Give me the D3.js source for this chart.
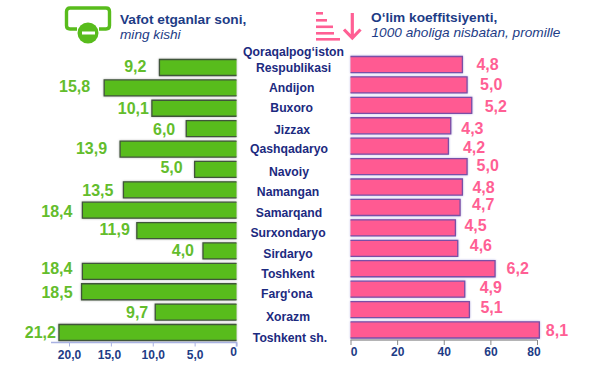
<!DOCTYPE html>
<html lang="en">
<head>
<meta charset="UTF-8">
<title>Vafot etganlar soni</title>
<script src="https://d3js.org/d3.v7.min.js"></script>
<style>
    html, body { margin: 0; background: #fff; }
    svg { display: block; font-family: "Liberation Sans", Arial, sans-serif; }
    .title { font-weight: bold; font-size: 13.7px; fill: #1d3c86; }
    .sub { font-style: italic; font-size: 13.65px; fill: #1d3c86; }
    .cat { font-weight: bold; font-size: 12.2px; fill: #1c2a80; text-anchor: middle; }
    .val { font-weight: bold; font-size: 16px; dominant-baseline: central; }
    .axis text { font-weight: bold; font-size: 12px; fill: #1d3c86; font-family: "Liberation Sans", Arial, sans-serif; }
</style>
</head>
<body>
<svg id="chart" width="600" height="366"></svg>
<script>
// data
const categories = ["Qoraqalpog‘iston Respublikasi", "Andijon", "Buxoro", "Jizzax", "Qashqadaryo", "Navoiy", "Namangan",
    "Samarqand", "Surxondaryo", "Sirdaryo", "Toshkent", "Farg‘ona", "Xorazm", "Toshkent sh."];
const deaths = [9.2, 15.8, 10.1, 6.0, 13.9, 5.0, 13.5, 18.4, 11.9, 4.0, 18.4, 18.5, 9.7, 21.2];
const rates = [4.8, 5.0, 5.2, 4.3, 4.2, 5.0, 4.8, 4.7, 4.5, 4.6, 6.2, 4.9, 5.1, 8.1];
const deathTicks = [20, 15, 10, 5, 0];
const rateTicks = [0, 2, 4, 6, 8]; // drawn as 0..80 in the original

// hand placed labels in the original, so they are not evenly spaced
const deathGap = [13, 14, 3, 11, 13, 12, 10, 10, 7, 9, 10, 9, 7, 3];
const deathNudge = [-1.5, -1, 0, 0.5, -1, -1.5, 1, 1, -1, 0, -2.5, 1, 0, 0.5];
const rateGap = [14, 13, 13, 10.5, 14.5, 9.5, 10, 12, 9, 12, 11.5, 15, 11, 6.5];
const rateNudge = [-0.5, 0, 1, 2.5, 1, -1.5, 0, -3, -2, -3, -0.5, -2, -2, 0.5];
const catNudge = [0, -0.8, -1.5, -0.3, -2, 0.2, -1, -1, -1, -1, -2, -2.6, -1, 0];
const catCenter = [293.5, 291.7, 291.7, 292, 289, 289, 288, 289, 288, 288, 288, 286.7, 288, 290];

const green = "#58bc1c", pink = "#ff5a92", navy = "#1d3c86";
const svg = d3.select("#chart");

// scales
const xLeft = d3.scaleLinear().domain([0, 20]).range([236.5, 69]);
const xRight = d3.scaleLinear().domain([0, 8]).range([350.5, 537]);
const yLeft = d3.scaleBand().domain(categories).range([59, 341]).paddingInner(0.166);
const yRight = d3.scaleBand().domain(categories).range([56, 338.5]).paddingInner(0.166);
const yCat = d3.scalePoint().domain(categories).range([68, 338]);

// open ended bar, no stroke on the side that sits on the axis
function barPath(x, y, d, i) {
    const name = categories[i], top = y(name) + 0.5, bot = y(name) + y.bandwidth() - 0.5;
    return `M${x(0)},${top}H${x(d)}V${bot}H${x(0)}`;
}

svg.append("g").selectAll("path").data(deaths).enter().append("path")
    .attr("d", (d, i) => barPath(xLeft, yLeft, d, i))
    .attr("fill", green)
    .attr("stroke", "#40553a")
    .attr("stroke-width", 1.3)
    .style("filter", "drop-shadow(0 0 1px #b5b5b5)");

svg.append("g").selectAll("path").data(rates).enter().append("path")
    .attr("d", (d, i) => barPath(xRight, yRight, d, i))
    .attr("fill", pink)
    .attr("stroke", "#7a4fa6")
    .attr("stroke-width", 1.3)
    .style("filter", "drop-shadow(0 0 1px #b9b6e6)");

// value labels
svg.append("g").selectAll("text").data(deaths).enter().append("text")
    .attr("class", "val")
    .attr("text-anchor", "end")
    .attr("fill", "#63bd2c")
    .attr("x", (d, i) => xLeft(d) - deathGap[i])
    .attr("y", (d, i) => yLeft(categories[i]) + yLeft.bandwidth() / 2 + deathNudge[i])
    .text(d => d3.format(".1f")(d).replace(".", ","));

svg.append("g").selectAll("text").data(rates).enter().append("text")
    .attr("class", "val")
    .attr("fill", "#ff5f94")
    .attr("x", (d, i) => xRight(d) + rateGap[i])
    .attr("y", (d, i) => yRight(categories[i]) + yRight.bandwidth() / 2 + rateNudge[i])
    .text(d => d3.format(".1f")(d).replace(".", ","));

// region names, the first one wraps on two lines
svg.append("g").selectAll("text").data(categories).enter().append("text")
    .attr("class", "cat")
    .attr("x", (d, i) => catCenter[i])
    .attr("y", (d, i) => yCat(d) + catNudge[i])
    .attr("dy", "0.35em")
    .each(function(d, i) {
        const words = d.split(" ");
        if (words[1] === "Respublikasi") {
            d3.select(this).append("tspan").attr("x", catCenter[i]).attr("dy", "-0.95em").text(words[0]);
            d3.select(this).append("tspan").attr("x", catCenter[i]).attr("dy", "1.28em").text(words[1]);
        } else {
            d3.select(this).text(d);
        }
    });

// axes
const axisLeft = svg.append("g").attr("class", "axis").attr("transform", "translate(0,342.5)")
    .call(d3.axisBottom(xLeft).tickValues(deathTicks).tickSize(4).tickPadding(3)
        .tickFormat(d => d === 0 ? "0" : d3.format(".1f")(d).replace(".", ",")));
axisLeft.select(".domain").attr("d", "M51,0H236.5V4").attr("stroke", "#a9b2e2").attr("stroke-width", 1.5);
axisLeft.selectAll(".tick line").attr("stroke", "#a9b2e2");
axisLeft.selectAll(".tick text").attr("dx", d => d === 0 ? -3.5 : d === 15 ? -2 : 0).attr("dy", d => d === 0 ? "0.55em" : "0.8em");

const axisRight = svg.append("g").attr("class", "axis").attr("transform", "translate(0,340)")
    .call(d3.axisBottom(xRight).tickValues(rateTicks).tickSize(5).tickPadding(2)
        .tickFormat(d => String(d * 10)));
axisRight.select(".domain").attr("d", "M350.5,0H537").attr("stroke", "#9c9c9c").attr("stroke-width", 1.6);
axisRight.selectAll(".tick line").attr("stroke", "#8a8a8a");
axisRight.selectAll(".tick text").attr("dx", d => d === 0 ? 3 : d === 8 ? -3.5 : 0);

// green icon
const iconA = svg.append("g");
iconA.append("path")
    .attr("d", "M77,29H70Q66.5,29 66.5,25.5V11.5Q66.5,8 70,8H106Q109.5,8 109.5,11.5V25.5Q109.5,29 106,29H99")
    .attr("fill", "none").attr("stroke", green).attr("stroke-width", 3.4);
iconA.append("circle").attr("cx", 88).attr("cy", 33).attr("r", 10.5).attr("fill", green);
iconA.append("rect").attr("x", 82).attr("y", 31.5).attr("width", 13).attr("height", 3).attr("fill", "#fff");

// pink icon
const iconB = svg.append("g").attr("fill", "#ff5f94");
[[12, 7], [19, 11], [25.5, 17], [32, 18], [38, 24]].forEach(b => {
    iconB.append("rect").attr("x", 316).attr("y", b[0]).attr("width", b[1]).attr("height", 2.6);
});
svg.append("path").attr("d", "M352.3,13V37M344,29.5L352.3,38L360.5,29.5")
    .attr("fill", "none").attr("stroke", "#ff5f94").attr("stroke-width", 3.2);

// headers
svg.append("text").attr("class", "title").attr("x", 120).attr("y", 24).text("Vafot etganlar soni,");
svg.append("text").attr("class", "sub").attr("x", 120).attr("y", 39).text("ming kishi");
svg.append("text").attr("class", "title").attr("x", 371).attr("y", 22).text("O‘lim koeffitsiyenti,");
svg.append("text").attr("class", "sub").attr("x", 371.5).attr("y", 37).text("1000 aholiga nisbatan, promille");
</script>
</body>
</html>
